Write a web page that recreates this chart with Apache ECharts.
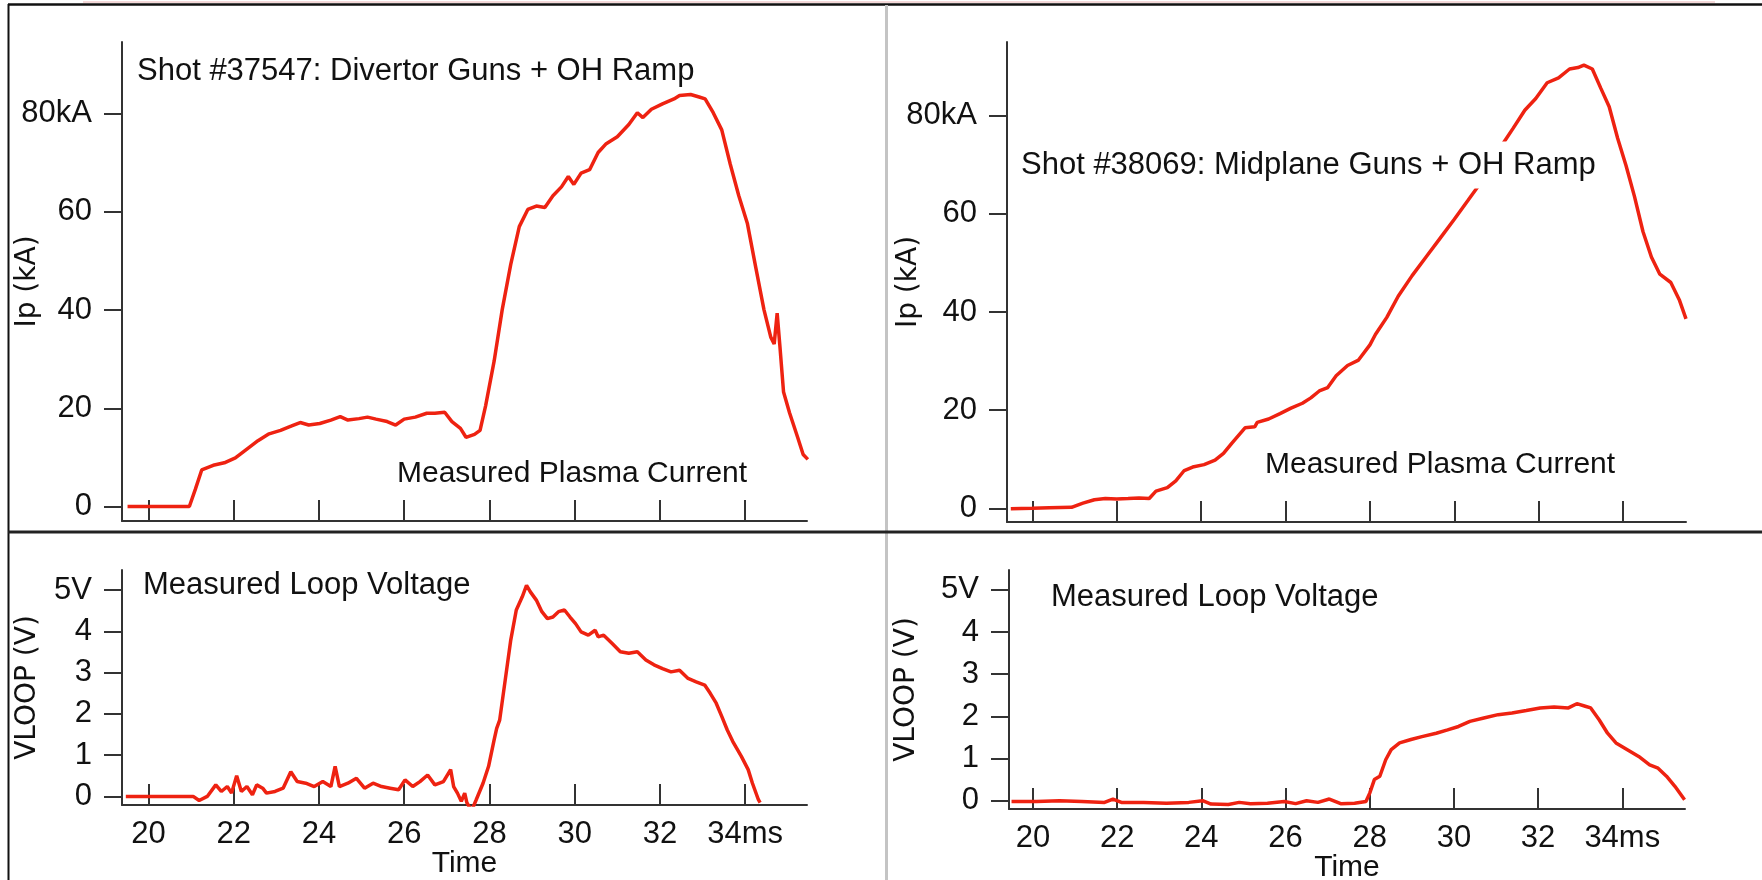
<!DOCTYPE html>
<html>
<head>
<meta charset="utf-8">
<script src="https://cdn.jsdelivr.net/npm/echarts@6/dist/echarts.min.js"></script>
<style>
html,body{margin:0;padding:0;background:#fff;}
#chart{width:1762px;height:880px;}
</style>
</head>
<body>
<div id="chart"></div>
<script>
// ---------- DATA ----------
// Shot #37547 plasma current (ms, kA)
const ipTime1 = [19.51,20.96,21.1,21.25,21.52,21.78,22.04,22.31,22.57,22.83,23.1,23.36,23.56,23.76,24.02,24.28,24.5,24.68,24.94,25.14,25.34,25.6,25.8,26.0,26.26,26.53,26.72,26.95,27.12,27.32,27.45,27.65,27.78,27.91,28.11,28.3,28.5,28.7,28.9,29.1,29.3,29.49,29.69,29.85,29.98,30.15,30.35,30.55,30.74,31.0,31.27,31.47,31.6,31.8,32.06,32.33,32.46,32.72,32.92,33.06,33.25,33.45,33.65,33.85,34.05,34.25,34.44,34.6,34.68,34.75,34.81,34.9,35.04,35.23,35.36,35.47];
const ipValue1 = [0,0,3.5,7.45,8.4,8.9,9.9,11.7,13.4,14.8,15.5,16.4,17.1,16.6,16.9,17.6,18.3,17.6,17.9,18.2,17.8,17.3,16.6,17.8,18.2,19.0,19.0,19.2,17.3,15.9,14.1,14.7,15.5,20.5,29.6,40.1,49.3,57.0,60.5,61.2,60.9,63.3,65.1,67.2,65.6,67.9,68.6,72.1,73.9,75.3,77.8,80.2,79.2,80.9,82.0,83.0,83.7,83.9,83.4,83.0,80.2,76.7,69.7,63.3,57.7,48.6,40.1,34.5,33.1,39.4,33.1,23.3,19.1,14.1,10.6,9.6];

// Shot #38069 plasma current (ms, kA)
const ipTime2 = [19.49,20.0,20.4,20.93,21.2,21.47,21.73,22.0,22.27,22.53,22.77,22.93,23.2,23.4,23.6,23.8,24.07,24.33,24.53,24.73,25.04,25.27,25.33,25.6,25.87,26.13,26.4,26.6,26.8,27.0,27.2,27.47,27.73,28.0,28.13,28.4,28.67,29.0,29.33,29.67,30.0,30.33,30.6,30.87,31.13,31.4,31.67,31.93,32.2,32.47,32.73,32.93,33.07,33.27,33.47,33.67,33.87,34.07,34.27,34.47,34.67,34.87,35.13,35.33,35.49];
const ipValue2 = [-0.1,0,0.1,0.2,1.05,1.75,2.0,1.9,2.0,2.1,2.0,3.5,4.2,5.6,7.7,8.4,8.9,9.8,11.2,13.3,16.4,16.6,17.5,18.2,19.3,20.4,21.4,22.5,23.9,24.6,27.0,29.1,30.2,33.3,35.4,38.9,43.2,47.4,51.2,55.1,58.9,62.8,66.0,70.0,74.0,77.5,81.1,83.5,86.7,87.7,89.5,89.8,90.3,89.5,85.6,81.8,75.4,69.8,63.5,56.4,51.2,47.7,46.0,42.5,38.6];

// Shot #37547 loop voltage (ms, V)
const vTime3 = [19.47,20.46,21.05,21.19,21.38,21.58,21.71,21.85,21.95,22.07,22.18,22.31,22.44,22.54,22.68,22.77,22.97,23.16,23.34,23.49,23.69,23.89,24.09,24.28,24.38,24.48,24.68,24.88,25.07,25.27,25.47,25.67,25.87,26.02,26.2,26.37,26.55,26.72,26.92,27.09,27.16,27.25,27.34,27.42,27.47,27.58,27.69,27.85,27.98,28.11,28.17,28.24,28.37,28.5,28.63,28.77,28.87,28.96,29.1,29.23,29.36,29.49,29.62,29.76,29.89,30.02,30.15,30.32,30.48,30.55,30.68,30.88,31.07,31.27,31.47,31.67,31.86,32.06,32.26,32.46,32.66,32.85,33.05,33.18,33.32,33.45,33.58,33.71,33.91,34.07,34.17,34.31,34.35];
const vValue3 = [0,0,0,-0.1,0,0.28,0.12,0.24,0.08,0.5,0.12,0.24,0.04,0.28,0.2,0.08,0.12,0.2,0.6,0.36,0.32,0.24,0.36,0.24,0.73,0.24,0.32,0.44,0.2,0.32,0.24,0.2,0.16,0.4,0.24,0.36,0.52,0.28,0.36,0.65,0.24,0.08,-0.12,0.08,-0.15,-0.35,-0.08,0.32,0.73,1.37,1.65,1.85,2.82,3.79,4.52,4.84,5.12,4.96,4.76,4.48,4.31,4.35,4.48,4.52,4.35,4.19,3.99,3.91,4.03,3.87,3.91,3.71,3.51,3.47,3.51,3.31,3.19,3.1,3.02,3.06,2.86,2.78,2.7,2.5,2.26,1.94,1.61,1.33,0.97,0.65,0.32,-0.08,-0.15];

// Shot #38069 loop voltage (ms, V)
const vTime4 = [19.49,20.09,20.63,21.16,21.7,21.9,22.1,22.63,23.17,23.7,24.03,24.23,24.64,24.9,25.17,25.57,25.97,26.24,26.5,26.77,27.04,27.31,27.64,27.91,28.0,28.11,28.24,28.38,28.51,28.71,28.98,29.24,29.58,29.85,30.11,30.38,30.71,31.05,31.38,31.72,32.05,32.38,32.72,32.92,33.12,33.25,33.45,33.65,33.85,34.12,34.39,34.65,34.85,35.05,35.25,35.48];
const vValue4 = [-0.02,-0.02,0,-0.02,-0.04,0.04,-0.04,-0.04,-0.06,-0.04,0,-0.08,-0.09,-0.04,-0.07,-0.06,-0.02,-0.07,0,-0.04,0.04,-0.07,-0.06,-0.02,0.18,0.5,0.58,0.97,1.21,1.37,1.45,1.52,1.6,1.68,1.76,1.88,1.96,2.04,2.08,2.14,2.2,2.22,2.2,2.3,2.24,2.2,1.92,1.6,1.37,1.21,1.05,0.85,0.77,0.58,0.34,0.02];

// Tick values and labels
const timeTicks = [20,22,24,26,28,30,32,34];
const timeTickLabels = ['20','22','24','26','28','30','32','34ms'];
const ipTicks = [0,20,40,60,80];
const ipTickLabels = ['0','20','40','60','80kA'];
const vTicks = [0,1,2,3,4,5];
const vTickLabels = ['0','1','2','3','4','5V'];

// Texts
const titles = {
  shot1: 'Shot #37547: Divertor Guns + OH Ramp',
  shot2: 'Shot #38069: Midplane Guns + OH Ramp',
  ip: 'Measured Plasma Current',
  vloop: 'Measured Loop Voltage',
  ipAxis: 'Ip (kA)',
  vAxis: 'VLOOP (V)',
  time: 'Time'
};

// ---------- CHART ----------
const RED = '#ee2211';
const AX = '#333';
const FONT = '"Liberation Sans", Arial, sans-serif';
const zip = (a, b) => a.map((t, i) => [t, b[i]]);

function xAxisDef(idx, min, max, showLabels) {
  return {
    type: 'value', gridIndex: idx, min: min, max: max,
    position: 'bottom',
    axisLine: { show: true, onZero: false, lineStyle: { color: AX, width: 2 } },
    axisTick: { show: true, inside: true, length: 21, customValues: timeTicks, lineStyle: { color: AX, width: 2 } },
    axisLabel: {
      show: showLabels, customValues: timeTicks, margin: 14,
      fontFamily: FONT, fontSize: 31, color: '#111',
      formatter: v => timeTickLabels[timeTicks.indexOf(Math.round(v))]
    },
    splitLine: { show: false },
    name: showLabels ? titles.time : '',
    nameLocation: 'middle', nameGap: 44, nameMoveOverlap: false,
    nameTextStyle: { fontFamily: FONT, fontSize: 30, color: '#111' }
  };
}
function yAxisDef(idx, min, max, ticks, labels, name, gap) {
  return {
    type: 'value', gridIndex: idx, min: min, max: max,
    axisLine: { show: true, onZero: false, lineStyle: { color: AX, width: 2 } },
    axisTick: { show: true, inside: false, length: 18, customValues: ticks, lineStyle: { color: AX, width: 2 } },
    axisLabel: {
      show: true, customValues: ticks, margin: 30,
      fontFamily: FONT, fontSize: 31, color: '#111',
      formatter: v => { const i = ticks.findIndex(t => Math.abs(t - v) < 1e-6); return i >= 0 ? labels[i] : ''; }
    },
    splitLine: { show: false },
    name: name, nameLocation: 'middle', nameGap: gap, nameRotate: 90, nameMoveOverlap: false,
    nameTextStyle: { fontFamily: '"DejaVu Sans", sans-serif', fontSize: 28, color: '#111' }
  };
}
function lineSeries(idx, data) {
  return {
    type: 'line', xAxisIndex: idx, yAxisIndex: idx, data: data,
    showSymbol: false, symbol: 'none', smooth: false, clip: true,
    lineStyle: { color: RED, width: 3.5 }, z: 2, animation: false
  };
}
function label(x, y, text, size, bg) {
  const st = { text: text, x: 0, y: 0, fill: '#111', font: size + 'px ' + FONT, verticalAlign: 'middle', align: 'left' };
  if (bg) { st.backgroundColor = '#fff'; st.padding = [8, 4]; }
  return { type: 'text', x: x, y: y, z: 50, style: st };
}
function line(x1, y1, x2, y2, color, w) {
  return { type: 'line', z: 60, shape: { x1, y1, x2, y2 }, style: { stroke: color, lineWidth: w } };
}

const chart = echarts.init(document.getElementById('chart'), null, { renderer: 'canvas' });
chart.setOption({
  backgroundColor: '#fff',
  animation: false,
  grid: [
    { left: 122, top: 42, width: 685, height: 479, outerBoundsMode: 'none', containLabel: false },
    { left: 1007, top: 42, width: 679, height: 480, outerBoundsMode: 'none', containLabel: false },
    { left: 122, top: 570, width: 685, height: 235, outerBoundsMode: 'none', containLabel: false },
    { left: 1009, top: 570, width: 676, height: 239, outerBoundsMode: 'none', containLabel: false }
  ],
  xAxis: [
    xAxisDef(0, 19.38, 35.45, false),
    xAxisDef(1, 19.40, 35.49, false),
    xAxisDef(2, 19.38, 35.45, true),
    xAxisDef(3, 19.43, 35.49, true)
  ],
  yAxis: [
    yAxisDef(0, -2.95, 94.6, ipTicks, ipTickLabels, titles.ipAxis, 80),
    yAxisDef(1, -2.79, 95.0, ipTicks, ipTickLabels, titles.ipAxis, 84),
    yAxisDef(2, -0.208, 5.49, vTicks, vTickLabels, titles.vAxis, 80),
    yAxisDef(3, -0.197, 5.47, vTicks, vTickLabels, titles.vAxis, 88)
  ],
  series: [
    lineSeries(0, zip(ipTime1, ipValue1)),
    lineSeries(1, zip(ipTime2, ipValue2)),
    lineSeries(2, zip(vTime3, vValue3)),
    lineSeries(3, zip(vTime4, vValue4))
  ],
  graphic: [
    label(137, 71, titles.shot1, 31, false),
    label(397, 474, titles.ip, 30, false),
    label(1017, 165, titles.shot2, 31, true),
    label(1265, 465, titles.ip, 30, false),
    label(143, 585, titles.vloop, 31, false),
    label(1051, 597, titles.vloop, 31, false),
    line(8, 4.5, 1762, 4.5, '#111', 2.5),
    line(83, 2, 1715, 2, '#e8b0b0', 1),
    line(8.5, 4, 8.5, 880, '#111', 2),
    line(886.5, 5, 886.5, 880, '#c4c4c4', 3),
    line(8, 532, 1762, 532, '#222', 3)
  ]
});
</script>
</body>
</html>
